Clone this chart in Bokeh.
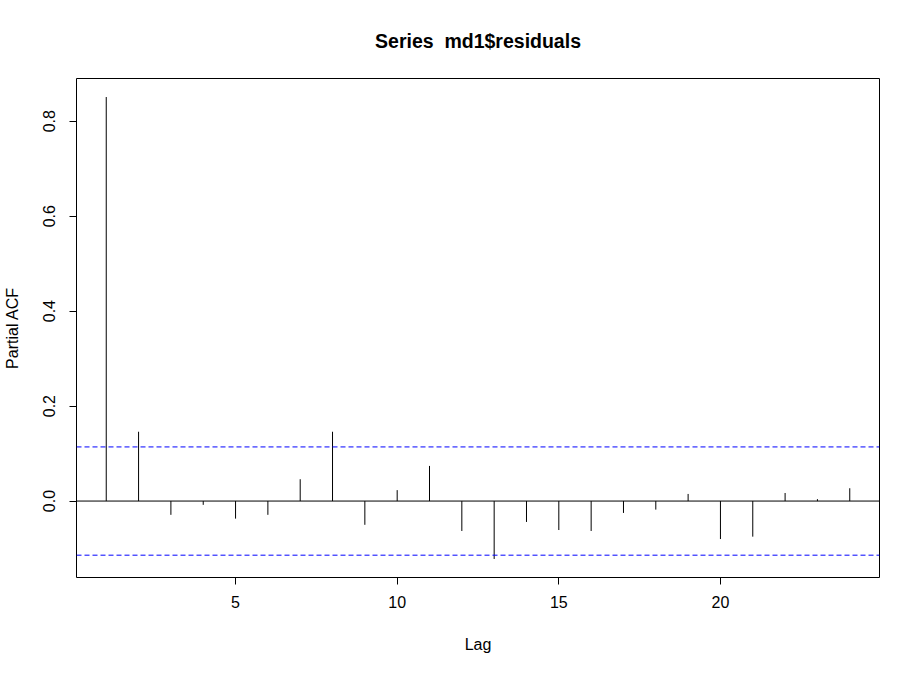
from bokeh.plotting import figure
from bokeh.models import Span, FixedTicker, Range1d
from bokeh.embed import file_html
from bokeh.resources import INLINE

lags = list(range(1, 25))
pacf = [0.851, 0.146, -0.029, -0.008, -0.037, -0.029, 0.046, 0.146, -0.050, 0.023,
        0.074, -0.063, -0.122, -0.044, -0.061, -0.063, -0.025, -0.018, 0.015, -0.080,
        -0.075, 0.017, 0.004, 0.027]
conf = 0.114
x_ticks = [5, 10, 15, 20]
y_ticks = [0.0, 0.2, 0.4, 0.6, 0.8]
title_text = "Series\u00a0 md1$residuals"

FONT = "Liberation Sans"

p = figure(width=903, height=658, output_backend="svg", toolbar_location=None,
           x_range=Range1d(0.08, 24.92), y_range=Range1d(-0.161, 0.890),
           min_border_left=76, min_border_right=24, min_border_top=78, min_border_bottom=81,
           title=title_text)

p.title.align = "center"
p.title.vertical_align = "top"
p.title.text_font = FONT
p.title.text_font_size = "19.5px"
p.title.text_font_style = "bold"
p.title.text_color = "black"
p.title.standoff = 50

p.outline_line_color = "black"
p.outline_line_width = 1
p.xgrid.visible = False
p.ygrid.visible = False
p.background_fill_color = "white"
p.border_fill_color = "white"

for ax in (p.xaxis[0], p.yaxis[0]):
    ax.axis_line_color = None
    ax.minor_tick_line_color = None
    ax.major_tick_in = 0
    ax.major_tick_out = 7
    ax.major_tick_line_color = "black"
    ax.major_label_text_font = FONT
    ax.major_label_text_font_size = "16px"
    ax.major_label_text_color = "black"
    ax.axis_label_text_font = FONT
    ax.axis_label_text_font_size = "16px"
    ax.axis_label_text_font_style = "normal"
    ax.axis_label_text_color = "black"

p.xaxis.ticker = FixedTicker(ticks=x_ticks)
p.yaxis.ticker = FixedTicker(ticks=y_ticks)
p.yaxis.major_label_overrides = {v: f"{v:.1f}" for v in y_ticks}
p.yaxis.major_label_orientation = "vertical"
p.xaxis.axis_label = "Lag"
p.yaxis.axis_label = "Partial ACF"
p.xaxis.major_label_standoff = 11
p.yaxis.major_label_standoff = 14
p.xaxis.axis_label_standoff = 25
p.yaxis.axis_label_standoff = 20

p.add_layout(Span(location=0, dimension="width", line_color="black", line_width=1))
p.add_layout(Span(location=conf, dimension="width", line_color="blue", line_width=1, line_dash="5 3"))
p.add_layout(Span(location=-conf, dimension="width", line_color="blue", line_width=1, line_dash="5 3"))

p.segment(x0=lags, y0=[0] * len(lags), x1=lags, y1=pacf, line_color="black", line_width=1)

open("out.html", "w").write(file_html(p, INLINE))
